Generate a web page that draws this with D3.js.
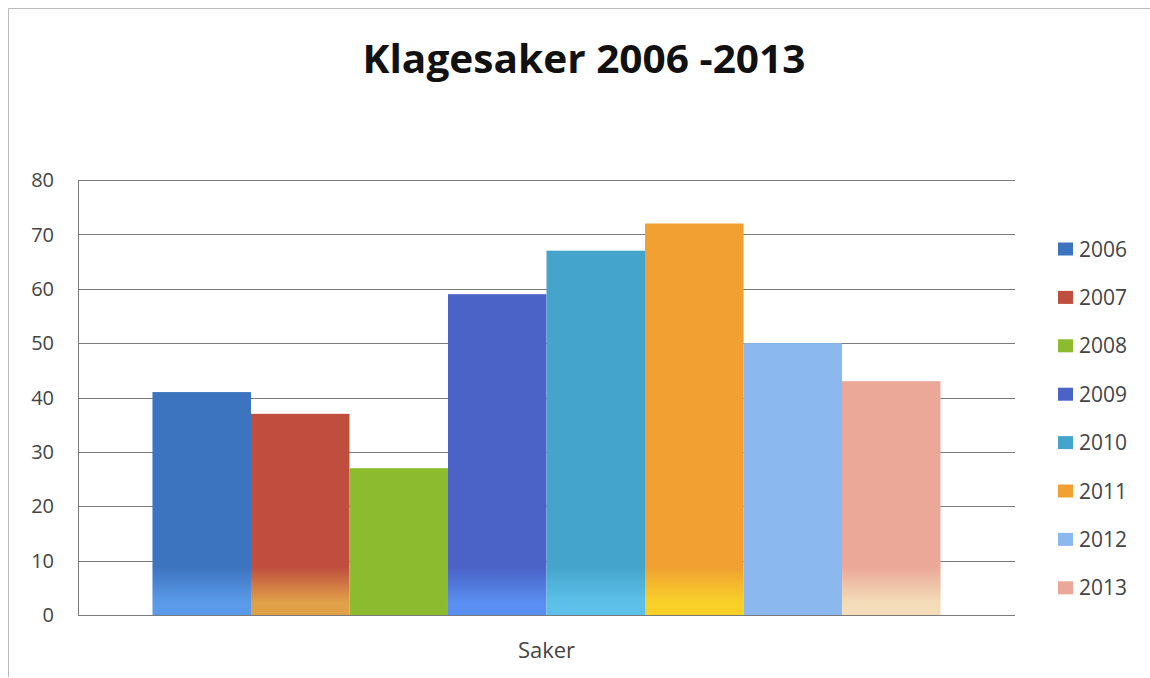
<!DOCTYPE html>
<html lang="no">
<head>
<meta charset="UTF-8">
<title>Klagesaker 2006 -2013</title>
<style>
  body { margin: 0; background: #fff; }
  text { font-family: "Open Sans", "Noto Sans", sans-serif; }
</style>
</head>
<body>
<svg id="chart" width="1150" height="678"></svg>
<script src="https://d3js.org/d3.v7.min.js"></script>
<script>
// data
const category = "Saker";
const years = ["2006", "2007", "2008", "2009", "2010", "2011", "2012", "2013"];
const values = [41, 37, 27, 59, 67, 72, 50, 43];
const colors = ["#3d74c0", "#bf4e3e", "#8dbb2f", "#4b62c6", "#45a4cc", "#f0a132", "#8bb8ef", "#eba898"];
// colour the bars fade to near the bottom (scan shading)
const bottomColors = ["#5a9ae8", "#e0a048", "#8dbb2f", "#5a8ef0", "#5cc0e8", "#f8d028", "#8bb8ef", "#f4dcb8"];
const yTicks = [0, 10, 20, 30, 40, 50, 60, 70, 80];

const svg = d3.select("#chart");
const m = { left: 78, right: 1015, top: 180, bottom: 615 };

// frame of the chart area
svg.append("path")
  .attr("d", "M8.5,677 L8.5,8.5 L1150,8.5")
  .attr("fill", "none").attr("stroke", "#bbb").attr("stroke-width", 1);

svg.append("text")
  .attr("x", 584).attr("y", 73)
  .attr("text-anchor", "middle")
  .style("font-size", "40px").style("font-weight", 700)
  .attr("fill", "#111")
  .attr("textLength", 443).attr("lengthAdjust", "spacingAndGlyphs")
  .text("Klagesaker 2006 -2013");

const y = d3.scaleLinear().domain([0, 80]).range([m.bottom, m.top]);
const x0 = d3.scaleBand().domain([category]).range([m.left, m.right]).paddingOuter(0.0945).paddingInner(0);
const x1 = d3.scaleBand().domain(years).range([0, x0.bandwidth()]);

// gridlines
svg.append("g").selectAll("line").data(yTicks).join("line")
  .attr("x1", m.left).attr("x2", m.right)
  .attr("y1", d => Math.round(y(d)) + 0.5).attr("y2", d => Math.round(y(d)) + 0.5)
  .attr("stroke", "#7a7a7a").attr("stroke-width", 1);

svg.append("line")
  .attr("x1", m.left + 0.5).attr("x2", m.left + 0.5)
  .attr("y1", m.top).attr("y2", m.bottom)
  .attr("stroke", "#7a7a7a");

// y tick labels
svg.append("g").selectAll("text").data(yTicks).join("text")
  .attr("x", 54).attr("y", d => y(d))
  .attr("dy", "0.36em")
  .attr("text-anchor", "end")
  .style("font-size", "20px").attr("fill", "#444")
  .text(d => d);

// gradients
const defs = svg.append("defs");
years.forEach((yr, i) => {
  const g = defs.append("linearGradient")
    .attr("id", "g" + yr)
    .attr("gradientUnits", "userSpaceOnUse")
    .attr("x1", 0).attr("x2", 0).attr("y1", m.top).attr("y2", m.bottom);
  g.append("stop").attr("offset", "0%").attr("stop-color", colors[i]);
  g.append("stop").attr("offset", "89%").attr("stop-color", colors[i]);
  g.append("stop").attr("offset", "97%").attr("stop-color", bottomColors[i]);
  g.append("stop").attr("offset", "100%").attr("stop-color", bottomColors[i]);
});

// bars
svg.append("g").selectAll("rect").data(years).join("rect")
  .attr("x", d => x0(category) + x1(d))
  .attr("width", x1.bandwidth())
  .attr("y", (d, i) => y(values[i]))
  .attr("height", (d, i) => y(0) - y(values[i]))
  .attr("fill", d => `url(#g${d})`);

// category label
svg.append("text")
  .attr("x", x0(category) + x0.bandwidth() / 2).attr("y", 658)
  .attr("text-anchor", "middle")
  .style("font-size", "22px").attr("fill", "#444")
  .text(category);

// legend
const leg = svg.append("g").selectAll("g").data(years).join("g")
  .attr("transform", (d, i) => `translate(1058, ${249 + i * 48.4})`);
leg.append("rect")
  .attr("x", 0).attr("y", -6.5).attr("width", 15).attr("height", 13)
  .attr("fill", (d, i) => colors[i]);
leg.append("text")
  .attr("x", 21).attr("dy", "0.36em")
  .style("font-size", "21px").attr("fill", "#444")
  .text(d => d);
</script>
</body>
</html>
